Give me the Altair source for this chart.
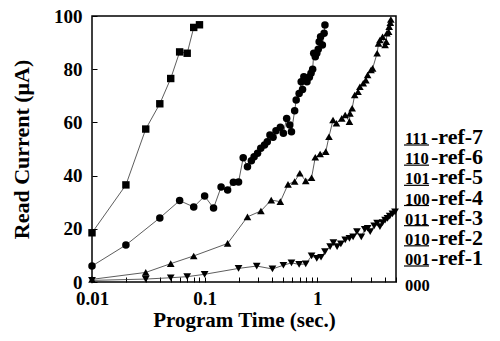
import altair as alt
import pandas as pd

# ---- data ----
sq_x = [0.01, 0.02, 0.03, 0.04, 0.05, 0.06, 0.07, 0.08, 0.09]
sq_y = [18.5, 36.5, 57.5, 67, 76.5, 86.5, 86, 95.7, 96.7]

ci_x = [0.01, 0.02, 0.04, 0.06, 0.08, 0.1, 0.12, 0.14, 0.16, 0.18, 0.2, 0.22, 0.24, 0.26,
        0.275, 0.295, 0.315, 0.34, 0.36, 0.38, 0.405, 0.43, 0.47, 0.5, 0.535, 0.57, 0.59,
        0.63, 0.65, 0.69, 0.72, 0.74, 0.76, 0.81, 0.85, 0.88, 0.91, 0.93, 0.96, 0.99, 1.02,
        1.04, 1.07, 1.11, 1.15, 1.17]
ci_y = [6.0, 13.9, 24.1, 30.6, 28.2, 32.3, 27.8, 35.7, 34.6, 37.5, 37.6, 46.7, 43.3, 45.6,
        47.1, 48.4, 50.3, 51.5, 52.7, 55.3, 54.4, 56.9, 58.2, 55.9, 61.5, 59.0, 56.5,
        64.4, 68.4, 70.9, 75.3, 72.4, 77.2, 75.3, 77.0, 78.5, 80.0, 86.0, 84.7, 86.0, 87.5,
        90.3, 92.2, 89.1, 93.5, 96.6]

tu_x = [0.01, 0.03, 0.05, 0.08, 0.16, 0.24, 0.316, 0.39, 0.47, 0.55, 0.63, 0.70, 0.79, 0.89,
        0.96, 1.06, 1.19, 1.27, 1.38, 1.48, 1.65, 1.77, 1.93, 1.95, 2.04, 2.15, 2.3, 2.39,
        2.56, 2.7, 2.8, 3.0, 3.1, 3.4, 3.5, 3.6, 3.8, 4.0, 4.1, 4.15, 4.3, 4.35, 4.45, 4.5]
tu_y = [1.0, 3.6, 6.9, 9.8, 14.5, 24.5, 26.7, 30.8, 30.2, 36.7, 37.8, 40.9, 38.0, 39.2,
        46.9, 48.1, 49.0, 54.6, 60.9, 59.7, 61.5, 62.8, 60.3, 63.4, 65.3, 70.3, 71.5, 73.4,
        74.7, 75.9, 77.8, 79.7, 80.3, 86.0, 89.7, 91.0, 92.2, 89.1, 90.3, 93.5, 94.1, 96.0, 97.5, 98.7]

td_x = [0.01, 0.03, 0.05, 0.07, 0.1, 0.2, 0.29, 0.4, 0.5, 0.59, 0.69, 0.79, 0.89, 0.99, 1.08,
        1.17, 1.30, 1.39, 1.50, 1.62, 1.77, 1.93, 2.08, 2.25, 2.46, 2.64, 2.8, 2.95, 3.2, 3.4,
        3.6, 3.8, 4.0, 4.2, 4.4, 4.65, 4.9]
td_y = [0.6, 1.1, 1.6, 2.0, 2.9, 5.1, 6.0, 4.9, 6.3, 7.2, 6.6, 6.8, 9.8, 8.9, 9.3,
        11.4, 13.3, 14.8, 13.3, 14.3, 15.8, 16.4, 17.0, 18.9, 17.0, 19.8, 20.2, 18.9, 21.1, 22.1,
        20.8, 22.3, 23.3, 23.9, 24.8, 25.6, 26.4]

series_names = ["sq", "ci", "tu", "td"]
series_shapes = ["square", "circle", "triangle-up", "triangle-down"]
series_sizes = [55, 60, 75, 75]

codes = ["111", "110", "101", "100", "011", "010", "001"]
refs = ["-ref-7", "-ref-6", "-ref-5", "-ref-4", "-ref-3", "-ref-2", "-ref-1"]
bottom_code = ["000"]

x_ticks = [0.01, 0.02, 0.03, 0.04, 0.05, 0.06, 0.07, 0.08, 0.09,
           0.1, 0.2, 0.3, 0.4, 0.5, 0.6, 0.7, 0.8, 0.9, 1, 2, 3, 4, 5]
y_ticks = [0, 20, 40, 60, 80, 100]

# ---- table ----
frames = []
for name, xs, ys in zip(series_names, [sq_x, ci_x, tu_x, td_x], [sq_y, ci_y, tu_y, td_y]):
    frames.append(pd.DataFrame({"series": name, "x": xs, "y": ys}))
df = pd.concat(frames, ignore_index=True)

FONT = "Liberation Serif"

x_enc = alt.X("x:Q",
              scale=alt.Scale(type="log", domain=[0.01, 5], nice=False),
              axis=alt.Axis(values=x_ticks,
                            labelExpr="datum.value == 0.01 ? '0.01' : (datum.value == 0.1 ? '0.1' : (datum.value == 1 ? '1' : ''))",
                            title="Program Time (sec.)", offset=-5, tickSize=5, domain=False,
                            labelPadding=7, grid=False, labelFlush=False, labelOverlap=False,
                            titlePadding=1, titleFontSize=21))
y_enc = alt.Y("y:Q",
              scale=alt.Scale(domain=[0, 100], nice=False),
              axis=alt.Axis(values=y_ticks, title="Read Current (μA)", offset=-5, tickSize=5,
                            domain=False, labelPadding=10, grid=False, titlePadding=20))

lines = alt.Chart(df).mark_line(color="#333333", strokeWidth=0.8).encode(
    x=x_enc, y=y_enc, detail="series:N", order="x:Q")
points = alt.Chart(df).mark_point(filled=True, opacity=1, color="black").encode(
    x=x_enc, y=y_enc,
    shape=alt.Shape("series:N", scale=alt.Scale(domain=series_names, range=series_shapes), legend=None),
    size=alt.Size("series:N", scale=alt.Scale(domain=series_names, range=series_sizes), legend=None))
data_layer = alt.layer(lines, points)

ann = pd.DataFrame({"code": codes, "ref": refs})
ybase = alt.Y("code:N", scale=alt.Scale(type="point", domain=codes, range=[128, 249], padding=0), axis=None)

under = alt.Chart(ann).mark_rule(color="black", strokeWidth=1.2, yOffset=1).encode(
    x=alt.value(312), x2=alt.value(337), y=ybase)
digits = alt.Chart(ann).mark_text(font=FONT, fontWeight="bold", fontSize=16.5, align="left",
                                  baseline="alphabetic", color="black").encode(
    x=alt.value(313), y=ybase, text="code:N")
reftext = alt.Chart(ann).mark_text(font=FONT, fontWeight="bold", fontSize=22, align="left",
                                   baseline="alphabetic", color="black").encode(
    x=alt.value(339), y=ybase, text="ref:N")
zero = alt.Chart(pd.DataFrame({"code": bottom_code})).mark_text(
    font=FONT, fontWeight="bold", fontSize=16.5, align="left", baseline="alphabetic", color="black").encode(
    x=alt.value(313), y=alt.value(275), text="code:N")
ann_layer = alt.layer(under, digits, reftext, zero)

chart = alt.layer(data_layer, ann_layer).resolve_scale(y="independent").properties(
    width=304, height=266,
    autosize=alt.AutoSizeParams(type="none"),
    padding={"left": 84, "top": 8, "right": 94, "bottom": 51},
).configure_view(stroke="black", strokeWidth=1.5).configure_axis(
    labelFont=FONT, labelFontWeight="bold", labelFontSize=19, labelColor="black",
    titleFont=FONT, titleFontWeight="bold", titleFontSize=22, titleColor="black",
    tickColor="black", tickWidth=1,
)

chart.save("out.html", embed_options={"renderer": "svg", "actions": False})
